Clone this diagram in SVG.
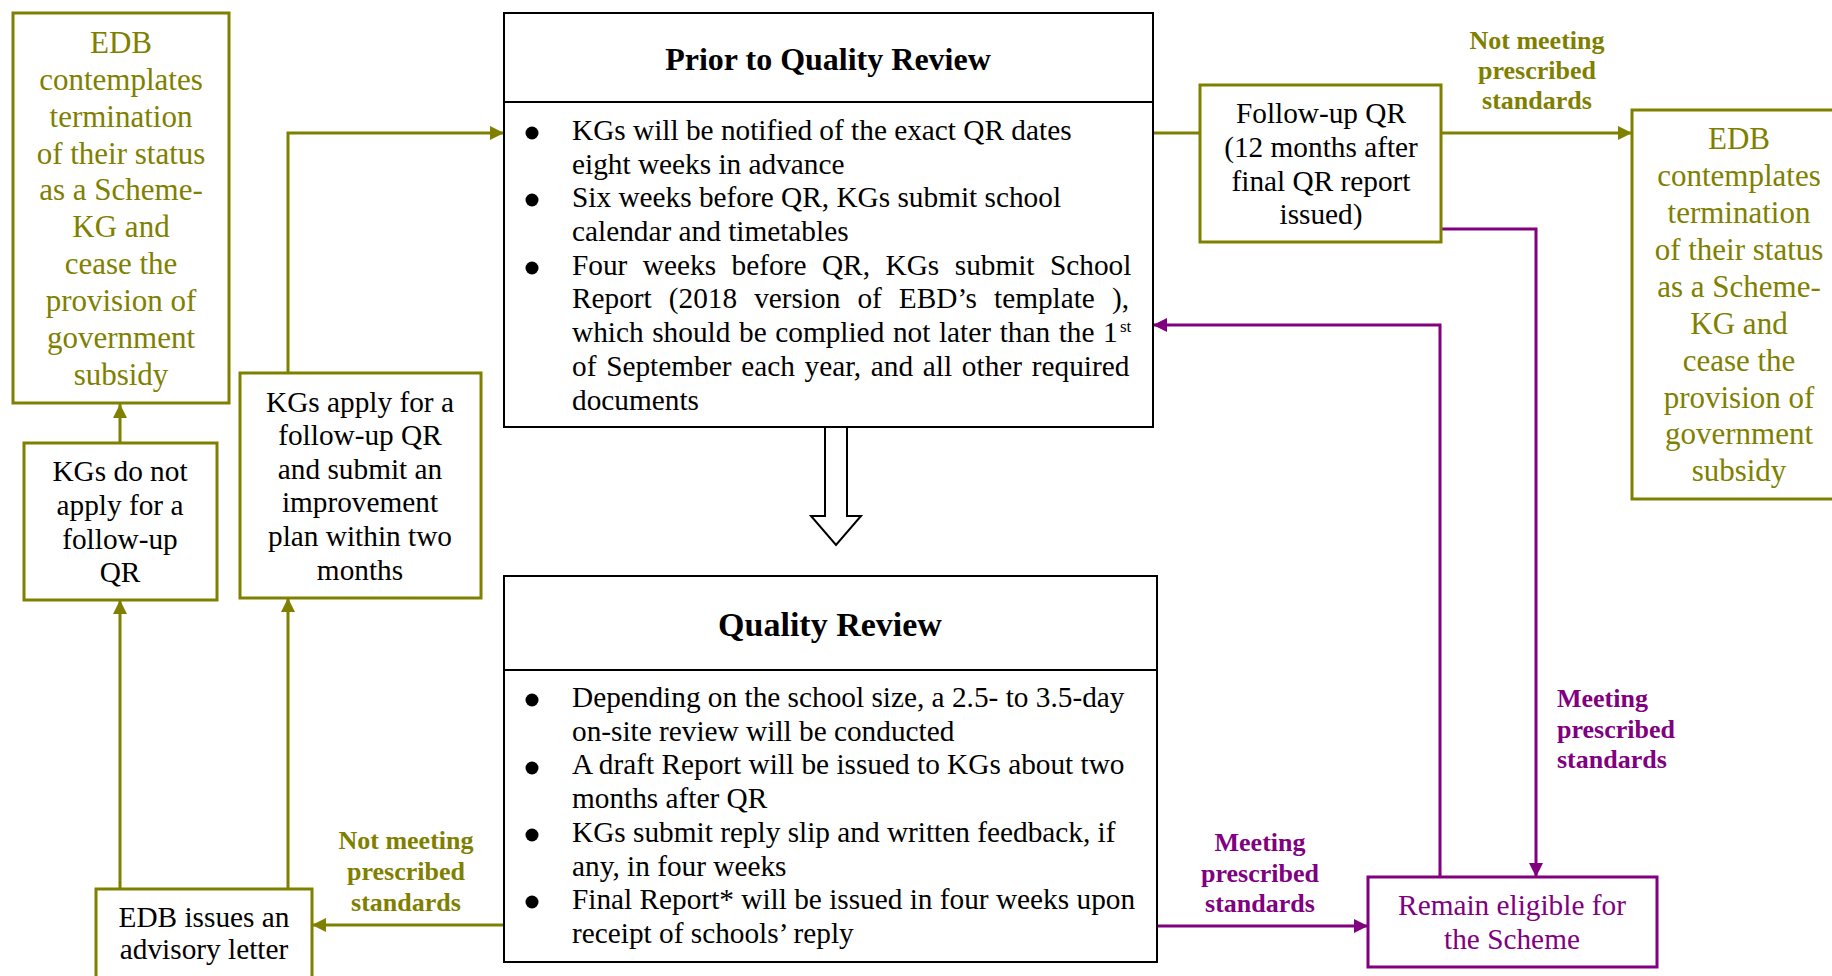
<svg xmlns="http://www.w3.org/2000/svg" width="1832" height="976" viewBox="0 0 1832 976">
<style>
.ol{fill:none;stroke:#808000;stroke-width:3}
.pu{fill:none;stroke:#800080;stroke-width:3}
.bx{fill:#fff;stroke:#000;stroke-width:2}
.obx{fill:#fff;stroke:#808000;stroke-width:3}
.pbx{fill:#fff;stroke:#800080;stroke-width:3}
text{font-family:"Liberation Serif","Times New Roman",serif;font-size:29.3px;fill:#000}
.c{text-anchor:middle}
.ot{fill:#808000;font-size:31px}
.pt{fill:#800080}
.lb{font-weight:bold;font-size:26px}
.olb{fill:#808000}
.plb{fill:#800080}
.ttl{font-weight:bold;font-size:32px}
.bul{fill:#000}
</style>
<defs>
<marker id="ao" markerUnits="userSpaceOnUse" markerWidth="16" markerHeight="16" viewBox="0 0 16 16" refX="15" refY="8" orient="auto"><path d="M1,1 L15,8 L1,15 Z" fill="#808000"/></marker>
<marker id="ap" markerUnits="userSpaceOnUse" markerWidth="16" markerHeight="16" viewBox="0 0 16 16" refX="15" refY="8" orient="auto"><path d="M1,1 L15,8 L1,15 Z" fill="#800080"/></marker>
</defs>
<rect width="1832" height="976" fill="#fff"/>

<g id="connectors">
<path class="ol" d="M120,443 V404" marker-end="url(#ao)"/>
<path class="ol" d="M120,889 V600" marker-end="url(#ao)"/>
<path class="ol" d="M288,889 V598" marker-end="url(#ao)"/>
<path class="ol" d="M288,373 V133 H504" marker-end="url(#ao)"/>
<path class="ol" d="M504,925 H312" marker-end="url(#ao)"/>
<path class="ol" d="M1153,133 H1200"/>
<path class="ol" d="M1441,133 H1632" marker-end="url(#ao)"/>
<path class="pu" d="M1441,229 H1536 V877" marker-end="url(#ap)"/>
<path class="pu" d="M1440,877 V325 H1153" marker-end="url(#ap)"/>
<path class="pu" d="M1157,926 H1368" marker-end="url(#ap)"/>
<polygon points="825,427 847,427 847,516 861,516 836,545 811,516 825,516" fill="#fff" stroke="#000" stroke-width="2"/>
<g id="label-not-meeting-left">
<text class="lb olb c" x="406" y="849">Not meeting</text>
<text class="lb olb c" x="406" y="880">prescribed</text>
<text class="lb olb c" x="406" y="911">standards</text>
</g>
<g id="label-not-meeting-top">
<text class="lb olb c" x="1537" y="49">Not meeting</text>
<text class="lb olb c" x="1537" y="79">prescribed</text>
<text class="lb olb c" x="1537" y="109">standards</text>
</g>
<g id="label-meeting-right">
<text class="lb plb" x="1557" y="707">Meeting</text>
<text class="lb plb" x="1557" y="738">prescribed</text>
<text class="lb plb" x="1557" y="768">standards</text>
</g>
<g id="label-meeting-bottom">
<text class="lb plb c" x="1260" y="851">Meeting</text>
<text class="lb plb c" x="1260" y="882">prescribed</text>
<text class="lb plb c" x="1260" y="912">standards</text>
</g>
</g>

<g id="edb-left">
<rect class="obx" x="13" y="13" width="216" height="390"/>
<text class="ot c" x="121" y="53">EDB</text>
<text class="ot c" x="121" y="90">contemplates</text>
<text class="ot c" x="121" y="127">termination</text>
<text class="ot c" x="121" y="164">of their status</text>
<text class="ot c" x="121" y="200">as a Scheme-</text>
<text class="ot c" x="121" y="237">KG and</text>
<text class="ot c" x="121" y="274">cease the</text>
<text class="ot c" x="121" y="311">provision of</text>
<text class="ot c" x="121" y="348">government</text>
<text class="ot c" x="121" y="385">subsidy</text>
</g>

<g id="kgs-do-not">
<rect class="obx" x="24" y="443" width="193" height="157"/>
<text class="c" x="120" y="481">KGs do not</text>
<text class="c" x="120" y="515">apply for a</text>
<text class="c" x="120" y="549">follow-up</text>
<text class="c" x="120" y="582">QR</text>
</g>

<g id="kgs-apply">
<rect class="obx" x="240" y="373" width="241" height="225"/>
<text class="c" x="360" y="412">KGs apply for a</text>
<text class="c" x="360" y="445">follow-up QR</text>
<text class="c" x="360" y="479">and submit an</text>
<text class="c" x="360" y="512">improvement</text>
<text class="c" x="360" y="546">plan within two</text>
<text class="c" x="360" y="580">months</text>
</g>

<g id="edb-issues">
<rect class="obx" x="96" y="889" width="216" height="100"/>
<text class="c" x="204" y="927">EDB issues an</text>
<text class="c" x="204" y="959">advisory letter</text>
</g>

<g id="prior-qr">
<rect class="bx" x="504" y="13" width="649" height="414"/>
<line x1="504" y1="102" x2="1153" y2="102" stroke="#000" stroke-width="2"/>
<text class="ttl c" x="828" y="70">Prior to Quality Review</text>
<circle class="bul" cx="532" cy="133" r="6.5"/>
<circle class="bul" cx="532" cy="200" r="6.5"/>
<circle class="bul" cx="532" cy="268" r="6.5"/>
<text x="572" y="140">KGs will be notified of the exact QR dates</text>
<text x="572" y="174">eight weeks in advance</text>
<text x="572" y="207">Six weeks before QR, KGs submit school</text>
<text x="572" y="241">calendar and timetables</text>
<text x="572" y="275" word-spacing="8.2">Four weeks before QR, KGs submit School</text>
<text x="572" y="308" word-spacing="9.7">Report (2018 version of EBD’s template ),</text>
<text x="572" y="342" word-spacing="1.3">which should be complied not later than the 1</text>
<text x="1120" y="332" style="font-size:17px">st</text>
<text x="572" y="376" word-spacing="2.4">of September each year, and all other required</text>
<text x="572" y="410">documents</text>
</g>

<g id="quality-review">
<rect class="bx" x="504" y="576" width="653" height="386"/>
<line x1="504" y1="670" x2="1157" y2="670" stroke="#000" stroke-width="2"/>
<text class="c" x="830" y="636" style="font-weight:bold;font-size:34px">Quality Review</text>
<circle class="bul" cx="532" cy="700" r="6.5"/>
<circle class="bul" cx="532" cy="768" r="6.5"/>
<circle class="bul" cx="532" cy="835" r="6.5"/>
<circle class="bul" cx="532" cy="902" r="6.5"/>
<text x="572" y="707">Depending on the school size, a 2.5- to 3.5-day</text>
<text x="572" y="741">on-site review will be conducted</text>
<text x="572" y="774">A draft Report will be issued to KGs about two</text>
<text x="572" y="808">months after QR</text>
<text x="572" y="842">KGs submit reply slip and written feedback, if</text>
<text x="572" y="876">any, in four weeks</text>
<text x="572" y="909">Final Report* will be issued in four weeks upon</text>
<text x="572" y="943">receipt of schools’ reply</text>
</g>

<g id="follow-up-qr">
<rect class="obx" x="1200" y="85" width="241" height="157"/>
<text class="c" x="1321" y="123">Follow-up QR</text>
<text class="c" x="1321" y="157">(12 months after</text>
<text class="c" x="1321" y="191">final QR report</text>
<text class="c" x="1321" y="224">issued)</text>
</g>

<g id="edb-right">
<rect class="obx" x="1632" y="110" width="216" height="389"/>
<text class="ot c" x="1739" y="149">EDB</text>
<text class="ot c" x="1739" y="186">contemplates</text>
<text class="ot c" x="1739" y="223">termination</text>
<text class="ot c" x="1739" y="260">of their status</text>
<text class="ot c" x="1739" y="297">as a Scheme-</text>
<text class="ot c" x="1739" y="334">KG and</text>
<text class="ot c" x="1739" y="371">cease the</text>
<text class="ot c" x="1739" y="408">provision of</text>
<text class="ot c" x="1739" y="444">government</text>
<text class="ot c" x="1739" y="481">subsidy</text>
</g>

<g id="remain-eligible">
<rect class="pbx" x="1368" y="877" width="289" height="90"/>
<text class="pt c" x="1512" y="915">Remain eligible for</text>
<text class="pt c" x="1512" y="949">the Scheme</text>
</g>
</svg>
